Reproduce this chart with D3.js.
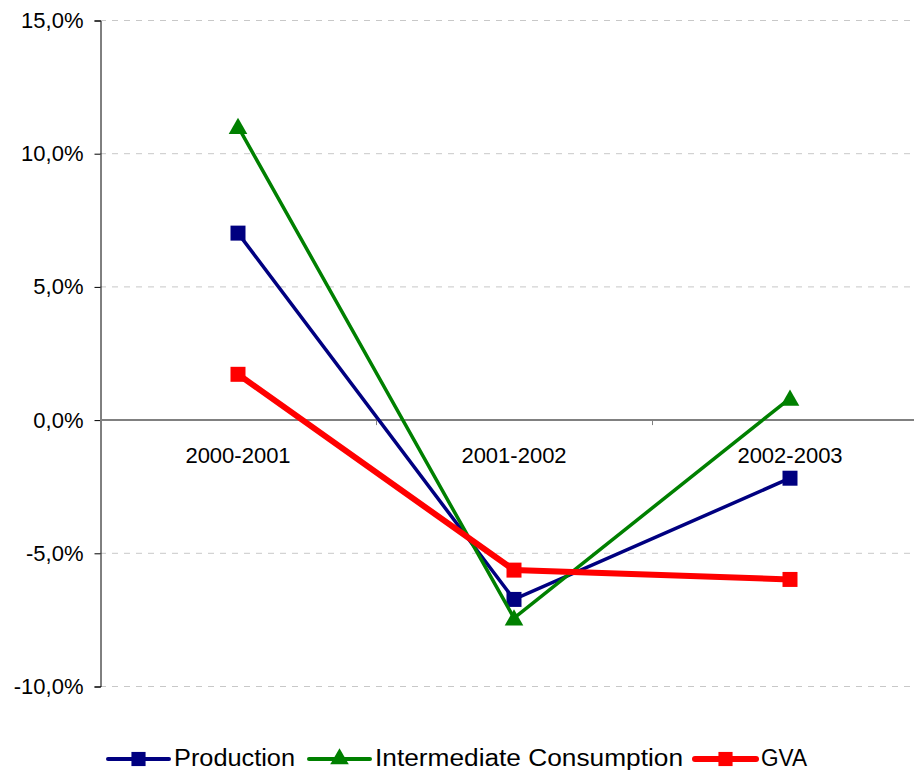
<!DOCTYPE html>
<html>
<head>
<meta charset="utf-8">
<script src="https://cdn.jsdelivr.net/npm/d3@7"></script>
<style>
  body { margin: 0; background: #fff; }
  text { font-family: "Liberation Sans", Arial, sans-serif; fill: #000; }
</style>
</head>
<body>
<div id="chart"></div>
<script>
const periods = ['2000-2001', '2001-2002', '2002-2003'];
const production = [7.0, -6.75, -2.2];
const intermediate = [11.0, -7.45, 0.8];
const gva = [1.7, -5.65, -6.0];
const yTicks = [-10, -5, 0, 5, 10, 15];

const width = 914, height = 770;
const margin = { top: 20, left: 100, bottom: 84 };
const band = 276;

const svg = d3.select('#chart').append('svg')
  .attr('width', width)
  .attr('height', height);

const x = d3.scaleBand()
  .domain(periods)
  .range([margin.left, margin.left + band * periods.length]);
const y = d3.scaleLinear()
  .domain([-10, 15])
  .range([height - margin.bottom, margin.top]);

// comma decimal, plain hyphen for negatives
const fmt = d => (d < 0 ? '-' : '') + Math.abs(d).toFixed(1).replace('.', ',') + '%';

// grid
svg.append('g')
  .selectAll('line').data(yTicks.filter(d => d !== 0)).enter()
  .append('line')
    .attr('x1', margin.left)
    .attr('x2', width)
    .attr('y1', d => y(d) + 0.5)
    .attr('y2', d => y(d) + 0.5)
    .attr('stroke', '#c8c8c8')
    .attr('stroke-dasharray', '6,6');

// y axis
const yAxis = svg.append('g')
  .attr('transform', `translate(${margin.left + 0.5}, 0.5)`)
  .call(d3.axisLeft(y).tickValues(yTicks).tickFormat(fmt).tickSize(6).tickPadding(11));
yAxis.attr('font-size', null).attr('font-family', null);
yAxis.select('.domain').attr('stroke', '#000');
yAxis.selectAll('.tick line').attr('stroke', '#000');
yAxis.selectAll('text').style('font-size', '22px');

// x axis at zero
const xAxis = svg.append('g')
  .attr('transform', `translate(0, ${y(0) + 0.5})`);
xAxis.append('line')
  .attr('x1', margin.left)
  .attr('x2', width)
  .attr('stroke', '#808080')
  .attr('stroke-width', 2);
xAxis.selectAll('.tk').data(periods.slice(1)).enter()
  .append('line')
    .attr('x1', d => x(d) + 0.5)
    .attr('x2', d => x(d) + 0.5)
    .attr('y1', 0)
    .attr('y2', 5)
    .attr('stroke', '#808080');
xAxis.selectAll('text').data(periods).enter()
  .append('text')
    .attr('x', d => x(d) + x.bandwidth() / 2)
    .attr('y', 43)
    .attr('text-anchor', 'middle')
    .style('font-size', '22px')
    .text(d => d);

const series = [
  { name: 'Production', values: production, color: '#000080', width: 3.5, marker: 'square' },
  { name: 'Intermediate Consumption', values: intermediate, color: '#008000', width: 3.5, marker: 'triangle' },
  { name: 'GVA', values: gva, color: '#ff0000', width: 6, marker: 'square' },
];

const cx = i => x(periods[i]) + x.bandwidth() / 2;
const line = d3.line()
  .x((d, i) => cx(i))
  .y(d => y(d));

const symbol = m => m === 'square'
  ? d3.symbol().type(d3.symbolSquare).size(225)()
  : d3.symbol().type(d3.symbolTriangle).size(150)();

series.forEach(s => {
  const g = svg.append('g');
  g.append('path')
    .attr('d', line(s.values))
    .attr('fill', 'none')
    .attr('stroke', s.color)
    .attr('stroke-width', s.width);
  g.selectAll('path.m').data(s.values).enter()
    .append('path')
      .attr('class', 'm')
      .attr('d', symbol(s.marker))
      .attr('transform', (d, i) => `translate(${cx(i)}, ${y(d) + (s.marker === 'triangle' ? 2 : 0)})`)
      .attr('fill', s.color);
});

// legend
const legendX = [108, 309, 695];
const legendW = [121, 308, 46];
const legend = svg.append('g')
  .attr('transform', `translate(0, 759)`);
series.forEach((s, i) => {
  const g = legend.append('g').attr('transform', `translate(${legendX[i]}, 0)`);
  g.append('line')
    .attr('x1', 0).attr('x2', 61)
    .attr('stroke', s.color)
    .attr('stroke-width', s.width === 6 ? 6 : 4)
    .attr('stroke-linecap', 'round');
  g.append('path')
    .attr('d', s.marker === 'square'
      ? d3.symbol().type(d3.symbolSquare).size(200)()
      : d3.symbol().type(d3.symbolTriangle).size(150)())
    .attr('transform', `translate(30.5, ${s.marker === 'triangle' ? 0 : 0})`)
    .attr('fill', s.color);
  g.append('text')
    .attr('x', 66)
    .attr('y', 7)
    .style('font-size', '23px')
    .attr('textLength', legendW[i])
    .attr('lengthAdjust', 'spacingAndGlyphs')
    .text(s.name);
});
</script>
</body>
</html>
